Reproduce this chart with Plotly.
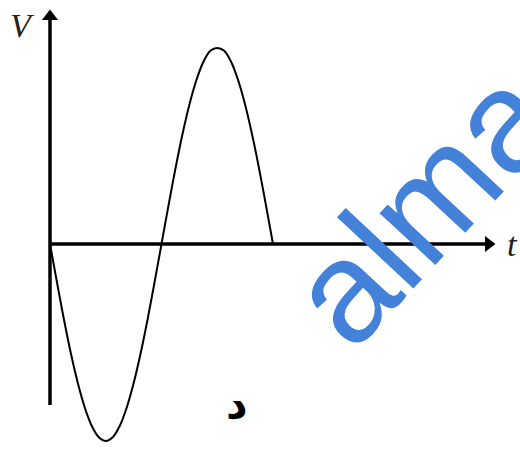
import plotly.graph_objects as go

# ---- data (time in units of pi, voltage normalised) ----
t_values = [0, 0.0625, 0.125, 0.1875, 0.25, 0.3125, 0.375, 0.4375, 0.5,
            0.5625, 0.625, 0.6875, 0.75, 0.8125, 0.875, 0.9375, 1.0,
            1.0625, 1.125, 1.1875, 1.25, 1.3125, 1.375, 1.4375, 1.5,
            1.5625, 1.625, 1.6875, 1.75, 1.8125, 1.875, 1.9375, 2.0]
v_values = [0, -0.195, -0.383, -0.556, -0.707, -0.831, -0.924, -0.981, -1.0,
            -0.981, -0.924, -0.831, -0.707, -0.556, -0.383, -0.195, 0,
            0.195, 0.383, 0.556, 0.707, 0.831, 0.924, 0.981, 0.995,
            0.981, 0.924, 0.831, 0.707, 0.556, 0.383, 0.195, 0]
axis_labels = ["V", "t"]
caption = "د"
watermark = "alma"

W, H = 520, 452
X0_PX, Y0_PX = 50, 244          # origin pixel
PX_PER_T, PX_PER_V = 111.5, 197.0

def tx(px):
    return (px - X0_PX) / PX_PER_T

def vy(py):
    return (Y0_PX - py) / PX_PER_V

xr = [tx(0), tx(W)]
yr = [vy(H), vy(0)]

fig = go.Figure()

# axes
v_tip = vy(10 + 6.5)
t_tip = tx(495 - 6.5)
fig.add_trace(go.Scatter(x=[0, 0], y=[vy(405), v_tip], mode="lines",
                         line=dict(color="black", width=3.5), hoverinfo="skip"))
fig.add_trace(go.Scatter(x=[0, t_tip], y=[0, 0], mode="lines",
                         line=dict(color="black", width=3.5), hoverinfo="skip"))
fig.add_trace(go.Scatter(x=[0], y=[v_tip], mode="markers",
                         marker=dict(symbol="triangle-up", size=14, color="black"),
                         hoverinfo="skip"))
fig.add_trace(go.Scatter(x=[t_tip], y=[0], mode="markers",
                         marker=dict(symbol="triangle-right", size=14, color="black"),
                         hoverinfo="skip"))

# sine wave
fig.add_trace(go.Scatter(x=t_values, y=v_values, mode="lines",
                         line=dict(color="black", width=2, shape="spline", smoothing=0.8),
                         hoverinfo="skip"))

# labels
fig.add_annotation(x=tx(22), y=vy(25), text="<i>" + axis_labels[0] + "</i>",
                   showarrow=False, font=dict(family="Liberation Serif", size=34, color="#222"))
fig.add_annotation(x=tx(512), y=vy(244), text="<i>" + axis_labels[1] + "</i>",
                   showarrow=False, font=dict(family="Liberation Serif", size=34, color="#222"))
fig.add_annotation(x=tx(237), y=vy(403), text="<b>" + caption + "</b>",
                   showarrow=False, font=dict(family="DejaVu Sans", size=42, color="black"))

# watermark
fig.add_annotation(x=tx(422), y=vy(206), text=watermark, textangle=-47,
                   showarrow=False,
                   font=dict(family="Liberation Sans", size=144, color="#4382d8"))

fig.update_layout(
    width=W, height=H, margin=dict(l=0, r=0, t=0, b=0),
    paper_bgcolor="white", plot_bgcolor="white", showlegend=False,
    xaxis=dict(range=xr, visible=False, fixedrange=True),
    yaxis=dict(range=yr, visible=False, fixedrange=True),
)

fig.write_html("out.html", config={"displayModeBar": False},
               post_script="document.body.style.margin='0px';document.body.style.overflow='hidden';")
